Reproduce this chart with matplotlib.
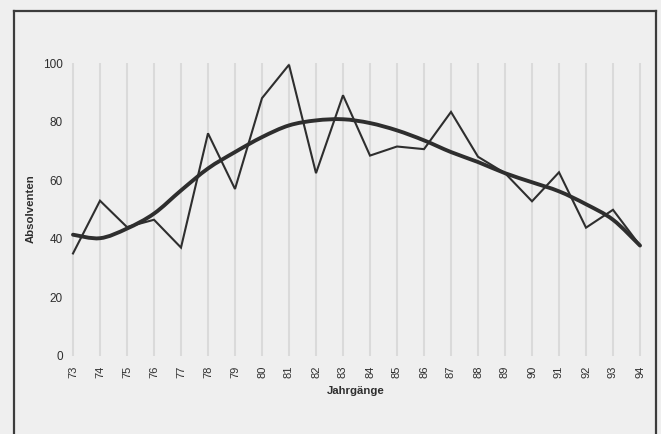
import numpy as np
import matplotlib
matplotlib.use("Agg")
import matplotlib.pyplot as plt
from matplotlib.path import Path
from matplotlib.patches import PathPatch
from matplotlib.lines import Line2D

# Absolventen pro Jahrgang
years = list(range(73, 95))
absolventen = [35, 53, 44, 46.5, 37, 76, 57, 88, 99.4, 62.4, 89, 68.4, 71.5,
               70.6, 83.3, 68, 62.4, 52.8, 62.7, 43.8, 49.9, 37.7]
# geglaettete Trendkurve
trend = [41.4, 40.2, 43.5, 48.6, 56.5, 64, 69.6, 74.7, 78.7, 80.4, 80.8, 79.5,
         77, 73.6, 69.6, 66.2, 62.4, 59.3, 56.2, 51.8, 46.5, 37.7]
yticks = [0, 20, 40, 60, 80, 100]

BG = "#efefef"
INK = "#2e2e2e"

plt.rcParams["font.family"] = ["Liberation Sans", "DejaVu Sans"]

W, H = 661, 434
fig = plt.figure(figsize=(W / 100, H / 100), dpi=100, facecolor=BG)

# axes in pixel terms: 73 -> x=73px, 94 -> x=640px ; 0 -> y=356px, 100 -> y=63px
px_per_year = (640 - 73) / 21
x0, x1 = 72.8, 94.2
left_px = 73 + (x0 - 73) * px_per_year
right_px = 73 + (x1 - 73) * px_per_year
ax = fig.add_axes([left_px / W, 1 - 356 / H, (right_px - left_px) / W, (356 - 63) / H])
ax.set_facecolor(BG)
ax.set_xlim(x0, x1)
ax.set_ylim(0, 100)

for s in ax.spines.values():
    s.set_visible(False)

# vertical grid lines per Jahrgang
ax.set_xticks(years)
ax.set_xticklabels([str(y) for y in years], rotation=90, fontsize=8, color=INK)
ax.set_yticks(yticks)
ax.set_yticklabels([str(v) for v in yticks], fontsize=8.5, color=INK)
ax.tick_params(axis="x", length=0, pad=7)
ax.tick_params(axis="y", length=0, pad=3.5)
ax.grid(axis="x", color="#dadada", linewidth=1.5)
ax.set_axisbelow(True)

# raw series
ax.plot(years, absolventen, color=INK, linewidth=1.5, solid_joinstyle="miter", zorder=3)

# smoothed trend drawn as a Catmull-Rom bezier through the read values
pts = np.column_stack([years, trend]).astype(float)
verts = [tuple(pts[0])]
codes = [Path.MOVETO]
for i in range(len(pts) - 1):
    p0 = pts[max(i - 1, 0)]
    p1 = pts[i]
    p2 = pts[i + 1]
    p3 = pts[min(i + 2, len(pts) - 1)]
    c1 = p1 + (p2 - p0) / 6
    c2 = p2 - (p3 - p1) / 6
    verts += [tuple(c1), tuple(c2), tuple(p2)]
    codes += [Path.CURVE4] * 3
ax.add_patch(PathPatch(Path(verts, codes), facecolor="none", edgecolor=INK,
                       linewidth=2.8, capstyle="round", zorder=4))

# axis titles
fig.text(356 / W, 1 - 391 / H, "Jahrgänge", ha="center", va="center", fontsize=8.2,
         fontweight="bold", color=INK)
fig.text(31 / W, 1 - 209 / H, "Absolventen", ha="center", va="center", rotation=90,
         fontsize=8.2, fontweight="bold", color=INK)

# outer frame (left, top, right)
fl, fr, ft = 14 / W, 656 / W, 1 - 11 / H
for xs, ys in [([fl, fl], [0, ft]), ([fl, fr], [ft, ft]), ([fr, fr], [ft, 0])]:
    fig.add_artist(Line2D(xs, ys, transform=fig.transFigure, color="#3c3c3c", linewidth=1.6))

fig.savefig("out.png", dpi=100, facecolor=BG)
